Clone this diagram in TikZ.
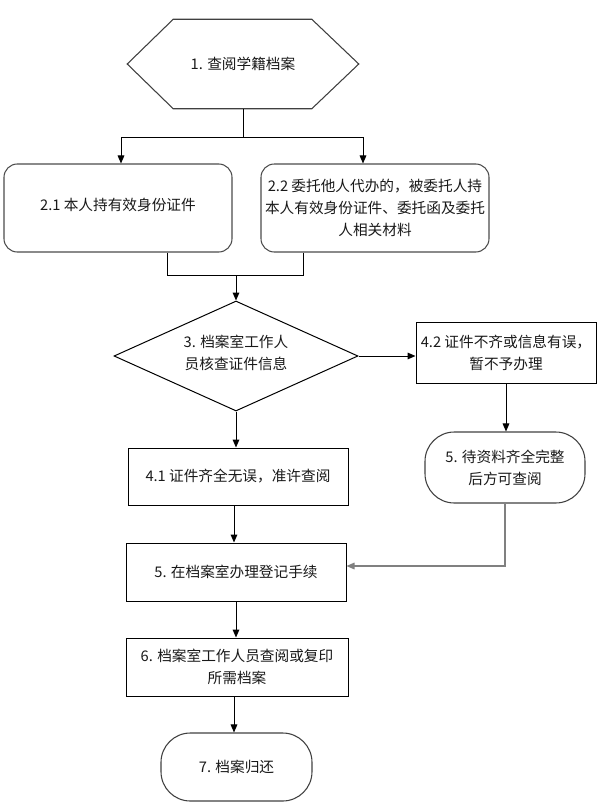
\documentclass[tikz,border=0pt]{standalone}
\usepackage{fontspec}
\setmainfont{Noto Sans CJK SC}
\usetikzlibrary{shapes.geometric,arrows.meta,calc}
\begin{document}
\begin{tikzpicture}[x=0.75pt,y=-0.75pt,
  every node/.style={font=\fontsize{11}{16.5}\selectfont, align=center, inner sep=0pt, text=black!90},
  rbox/.style={draw=black!70, line width=0.8pt, rounded corners=10pt},
  sbox/.style={draw=black, line width=0.75pt},
  pill/.style={draw=black!75, line width=0.8pt, rounded corners=22pt},
  conn/.style={draw=black, line width=0.75pt},
  arr/.style={conn, -{Triangle[length=6pt,width=5pt]}},
  garr/.style={draw=black!50, line width=0.8pt, -{Triangle[length=6pt,width=5pt]}}]
\path[use as bounding box] (0,0) rectangle (601,810);

% 1 hexagon
\node[minimum width=173.25pt, minimum height=66.75pt] (n1) at (243,64) {1. 查阅学籍档案};
\draw[draw=black!75, line width=0.8pt] (n1.west) -- ($(n1.north west)+(46,0)$) -- ($(n1.north east)+(-47,0)$) -- (n1.east) -- ($(n1.south east)+(-47,0)$) -- ($(n1.south west)+(46,0)$) -- cycle;

% 2.1 / 2.2
\node[rbox, minimum width=171pt, minimum height=66pt] (n21) at (118,208) {};
\node (n21t) at (118,205) {2.1 本人持有效身份证件};
\node[rbox, minimum width=171pt, minimum height=66pt] (n22) at (375,208) {2.2 委托他人代办的，被委托人持\\本人有效身份证件、委托函及委托\\人相关材料};

% 3 diamond
\node[diamond, draw=black, line width=0.75pt, minimum width=183pt, minimum height=82.5pt] (n3) at (236,356) {};
\node (n3t) at (236,353) {3. 档案室工作人\\员核查证件信息};

% 4.2
\node[sbox, minimum width=135pt, minimum height=45.75pt] (n42) at (506,352.5) {4.2 证件不齐或信息有误，\\暂不予办理};
% 5 pill right
\node[pill, minimum width=120pt, minimum height=53.25pt] (n5b) at (505,467.5) {5. 待资料齐全完整\\后方可查阅};
% 4.1
\node[sbox, minimum width=165pt, minimum height=42.75pt] (n41) at (238,476.5) {4.1 证件齐全无误，准许查阅};
% 5
\node[sbox, minimum width=165pt, minimum height=43.5pt] (n5) at (236,572) {5. 在档案室办理登记手续};
% 6
\node[sbox, minimum width=166.5pt, minimum height=43.5pt] (n6) at (237,667) {6. 档案室工作人员查阅或复印\\所需档案};
% 7
\node[pill, minimum width=113.25pt, minimum height=51pt] (n7) at (236.5,767) {7. 档案归还};

% connectors
\coordinate (b) at (243,137);
\draw[conn] (n1.south) -- (b);
\draw[arr] (b) -| ($(n21.north)+(3,0)$);
\draw[arr] (b) -| ($(n22.north)+(-12,0)$);

\coordinate (m) at (236,275);
\draw[conn] ($(n21.south)+(49,0)$) |- (m);
\draw[conn] ($(n22.south)+(-72,0)$) |- (m);
\draw[arr] (m) -- (n3.north);

\draw[arr] (n3.east) -- (n3.east -| n42.west);
\draw[arr] (n42.south) -- (n42.south |- n5b.north);
\draw[arr] (n3.south) -- (n3.south |- n41.north);
\draw[arr] ($(n41.south)+(-4,0)$) -- ($(n41.south |- n5.north)+(-4,0)$);
\draw[garr] (n5b.south) |- ($(n5.east)+(0,-6)$);
\draw[arr] (n5.south) -- (n5.south |- n6.north);
\draw[arr] ($(n6.south)+(-3,0)$) -- ($(n6.south |- n7.north)+(-3,0)$);
\end{tikzpicture}
\end{document}
